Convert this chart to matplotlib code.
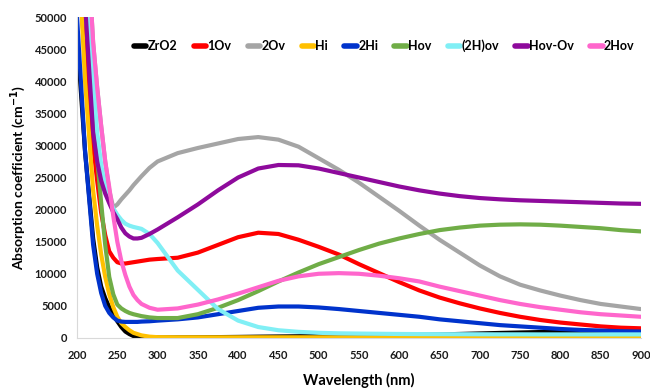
import matplotlib
matplotlib.use('Agg')
import matplotlib.pyplot as plt

plt.rcParams['font.family'] = ['Lato', 'DejaVu Sans']
plt.rcParams['font.weight'] = 'bold'

# wavelength grid (nm) the values were read at
wavelength = [200, 210, 220, 225, 230, 235, 240, 245, 250, 255, 260, 265, 270, 275, 280, 290, 300,
              325, 350, 375, 400, 425, 450, 475, 500, 525, 550, 575, 600,
              625, 650, 675, 700, 725, 750, 775, 800, 825, 850, 875, 900]

zro2 = [47000, 29000, 15500, 11000, 8000, 6200, 4800, 3600, 2600, 1700, 1000, 600, 300, 180, 100, 50, 60,
        80, 100, 130, 160, 200, 230, 260, 300, 330, 360, 400, 450,
        500, 550, 620, 700, 780, 850, 920, 980, 1000, 1000, 1000, 1000]
ov1 = [60000, 44000, 30000, 24500, 19500, 16000, 13500, 12500, 11800, 11600, 11600, 11700, 11800, 11900, 12000, 12200, 12300,
       12500, 13300, 14500, 15700, 16400, 16200, 15300, 14200, 13000, 11500, 10100, 8700,
       7400, 6300, 5400, 4600, 3900, 3300, 2800, 2400, 2100, 1800, 1600, 1500]
ov2 = [95000, 68000, 46000, 39000, 33000, 27500, 23000, 20300, 20800, 21600, 22300, 23000, 23800, 24500, 25200, 26500, 27500,
       28800, 29600, 30300, 31000, 31300, 30900, 29800, 28000, 26200, 24200, 22000, 19800,
       17500, 15300, 13300, 11300, 9600, 8300, 7400, 6600, 5900, 5300, 4900, 4500]
hi = [65000, 40000, 23000, 17500, 13000, 9500, 6800, 4800, 3300, 2300, 1700, 1200, 800, 600, 400, 200, 120,
      100, 100, 100, 100, 100, 100, 100, 100, 100, 100, 100, 100,
      100, 100, 100, 100, 100, 100, 100, 100, 100, 100, 100, 100]
hi2 = [50000, 29000, 14500, 10000, 7000, 5000, 3900, 3200, 2700, 2550, 2500, 2500, 2500, 2500, 2550, 2600, 2700,
       2900, 3200, 3700, 4200, 4700, 4900, 4900, 4750, 4500, 4200, 3900, 3600,
       3300, 2900, 2600, 2300, 2000, 1800, 1600, 1400, 1250, 1150, 1050, 1000]
hov = [75000, 53000, 36000, 28000, 21000, 14500, 9500, 6800, 5200, 4600, 4200, 3900, 3700, 3550, 3400, 3200, 3100,
       3100, 3700, 4700, 5900, 7300, 8800, 10200, 11500, 12600, 13700, 14700, 15500,
       16200, 16800, 17200, 17500, 17650, 17700, 17650, 17500, 17300, 17100, 16800, 16600]
h2ov = [85000, 60000, 40000, 32000, 27000, 23500, 21500, 20200, 19200, 18400, 17800, 17500, 17300, 17150, 17000, 16200, 14800,
        10500, 7500, 4500, 2700, 1700, 1200, 950, 800, 720, 680, 650, 620,
        600, 590, 580, 570, 560, 560, 550, 550, 550, 550, 550, 550]
hov_ov = [75000, 52000, 32000, 27500, 24500, 22500, 21000, 19600, 18500, 17200, 16300, 15800, 15500, 15500, 15600, 16200, 16900,
          18800, 20800, 23000, 25000, 26400, 26950, 26900, 26400, 25700, 25000, 24300, 23600,
          23000, 22500, 22100, 21800, 21600, 21450, 21350, 21250, 21150, 21050, 20950, 20900]
hov2 = [95000, 68000, 46000, 39000, 33000, 27500, 23500, 19000, 15000, 12000, 9800, 8000, 6700, 5900, 5300, 4700, 4400,
        4600, 5200, 6000, 6900, 7900, 8900, 9600, 10000, 10100, 10000, 9700, 9300,
        8800, 8000, 7300, 6600, 5900, 5300, 4800, 4400, 4000, 3700, 3500, 3300]

names = ['ZrO2', '1Ov', '2Ov', 'Hi', '2Hi', 'Hov', '(2H)ov', 'Hov-Ov', '2Hov']
series = [zro2, ov1, ov2, hi, hi2, hov, h2ov, hov_ov, hov2]
colors = ['#000000', '#FF0000', '#A5A5A5', '#FFC000', '#0033CC',
          '#70AD47', '#80EFF5', '#8E0A9C', '#FF66CC']

fig = plt.figure(figsize=(6.5, 3.88), dpi=100)
ax = fig.add_axes([0.1185, 0.129, 0.8675, 0.827])

for name, vals, c in zip(names, series, colors):
    ax.plot(wavelength, vals, color=c, lw=3, label=name,
            solid_capstyle='round', solid_joinstyle='round')

ax.set_xlim(200, 900)
ax.set_ylim(0, 50000)
ax.set_xticks(range(200, 901, 50))
ax.set_yticks(range(0, 50001, 5000))
ax.tick_params(length=0, labelsize=8, colors='#1a1a1a')
ax.tick_params(axis='x', pad=9)
ax.tick_params(axis='y', pad=7)
for s in ['top', 'right']:
    ax.spines[s].set_visible(False)
for s in ['left', 'bottom']:
    ax.spines[s].set_color('#D9D9D9')

ax.set_xlabel('Wavelength (nm)', fontsize=10.5, fontweight='bold', labelpad=8)
ax.set_ylabel('Absorption coefficient (cm$^{-1}$)', fontsize=10, fontweight='bold', labelpad=5)

leg = ax.legend(ncol=9, loc='center', bbox_to_anchor=(0.545, 0.91), frameon=False,
                fontsize=9, handlelength=1.0, handletextpad=0.1, columnspacing=1.3)
for h in leg.get_lines():
    h.set_linewidth(4)

fig.savefig('out.png', dpi=100)
